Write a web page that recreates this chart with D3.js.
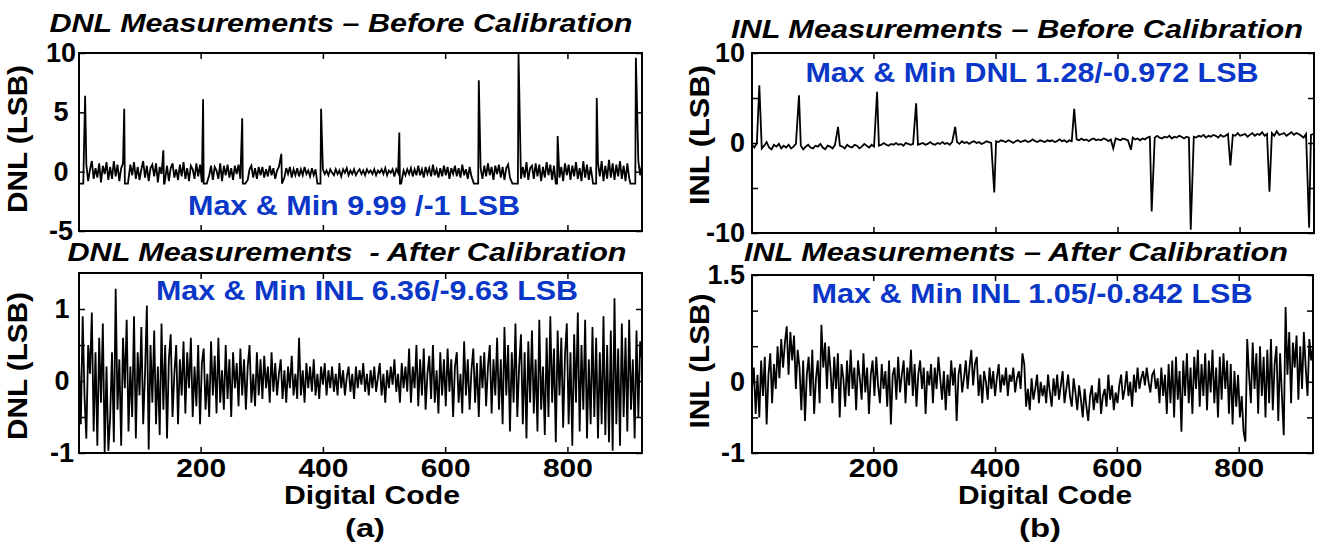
<!DOCTYPE html>
<html>
<head>
<meta charset="utf-8">
<script src="https://cdn.jsdelivr.net/npm/d3@7"></script>
<style>
  html, body { margin: 0; padding: 0; background: #fff; }
  svg { display: block; }
  text { font-family: "Liberation Sans", Arial, sans-serif; font-weight: bold; }
</style>
</head>
<body>
<svg id="chart" width="1318" height="552"></svg>
<script>
/* ── Data ── */
const codeDomain = [1, 922];
const xTicks = [200, 400, 600, 800];
const noiseStep = 3;     // noise arrays hold one value every 3 codes, from code 1
const inlBaseStep = 4;   // INL-before baseline: one value every 4 codes

// DNL before calibration: background noise
const dnlBeforeNoise = [
  .4,-.7,.8,-.3,.6,-.8,.2,.9,-.6,.3,-.5,.7,-.9,.5,-.2,.8,-.7,.4,-.6,.9,
  -.4,.6,-.8,.3,.7,-.5,.1,-.9,.6,-.3,.8,-.6,.4,-.7,.2,.9,-.5,.5,-.8,.3,
  .6,-.4,.7,-.9,.4,-.2,1.0,-.6,.5,-.8,.3,.7,-.5,.2,-.7,.6,-.4,.8,-.6,.3,
  -.8,.5,.2,-.6,.7,-.4,.6,-.9,.3,-.5,.8,-.3,.5,-.7,.4,.1,-.6,.7,-.8,.5,
  -.3,.6,-.5,.3,-.7,.5,-.2,.6,-.6,.4,-.4,.5,-.7,.2,.5,-.5,.3,-.6,.4,-.3,
  .4,-.5,.2,-.4,.5,-.3,.3,-.6,.1,.4,-.4,.2,-.5,.3,-.2,.4,-.5,.2,-.3,.3,
  -.4,.2,-.3,.4,-.2,.1,-.4,.3,-.3,.2,-.1,.3,-.4,.2,-.2,.1,-.3,.2,-.1,-.3,
  .2,-.2,.1,-.4,.2,-.1,.3,-.3,.1,-.2,.2,-.3,0,.2,-.2,.1,-.3,.2,-.1,.1,
  -.2,.2,-.3,.1,-.1,.2,-.2,.3,-.3,.1,-.1,.2,-.4,.2,-.1,.3,-.2,.1,-.3,.2,
  -.2,.3,-.4,.2,-.3,.5,-.3,.2,-.5,.4,-.2,.3,-.4,.6,-.3,.2,-.5,.3,-.4,.5,
  -.3,.4,-.6,.3,-.2,.5,-.4,.3,-.5,.6,-.3,.2,-.6,.4,-.4,.5,-.3,.6,-.5,.3,
  -.6,.5,-.4,.7,-.3,.4,-.7,.5,-.2,.6,-.5,.4,-.7,.3,.6,-.5,.4,-.8,.6,-.3,
  .7,-.6,.4,-.5,.8,-.7,.3,.5,-.6,.7,-.4,.6,-.8,.4,-.5,.8,-.3,.6,-.7,.5,
  -.6,.9,-.5,.4,-.8,.7,-.3,.6,-.7,.5,-.4,.8,-.6,.3,-.8,.9,-.5,.6,-.7,.4,
  -.5,.8,-.6,.7,-.4,.9,-.8,.5,-.6,1.0,-.5,.7,-.7,.6,-.4,.9,-.6,.5,-.8,.7,
  -.5,.8,-.6,.4,-.7,.9,-.3,.6
];
// DNL before: wide codes (spikes) and missing-code runs at -1 LSB
const dnlSpikeCodes = [11, 75, 139, 204, 268, 332, 397, 525, 655, 720, 784, 848, 912];
const dnlSpikeVals  = [6.4, 5.3, 1.8, 6.1, 4.5, 1.5, 5.3, 3.3, 7.7, 9.99, 3.0, 6.2, 9.6];
const dnlFlatFrom   = [1, 76, 140, 205, 269, 333, 391, 526, 647, 710, 781, 842, 903];
const dnlFlatTo     = [8, 81, 141, 210, 273, 333, 396, 528, 654, 719, 783, 847, 911];
const dnlFlatVal = -1;

// DNL after calibration
const dnlAfter = [
  .3,-.6,.9,-.2,-.8,.5,.1,.95,-.7,.4,-.9,.6,-.3,.8,-1,.2,-.97,-.5,.4,-.85,
  1.28,-.4,.3,-.9,.6,-.1,.85,-.7,.2,-.5,.9,-.8,.4,-.2,.75,-.6,.1,1.05,-.95,.5,
  -.3,.7,-.6,.2,-.75,.8,-.4,.5,-.8,.3,.65,-.5,.1,.5,-.6,.3,-.2,.55,-.45,.4,
  -.1,.6,-.5,.2,-.35,.5,-.6,.25,.45,-.4,.1,-.5,.55,-.2,.35,-.45,.6,-.3,.15,-.4,
  .5,-.25,.3,-.5,.4,-.1,.25,-.35,.45,-.2,.3,-.4,.2,.5,-.3,.1,-.35,.4,-.2,.3,
  -.25,.35,-.1,.2,-.3,.4,-.15,.25,-.2,.1,.3,-.25,.15,-.3,.2,-.1,.35,-.2,.1,-.25,
  .6,-.2,.15,-.3,.25,-.1,.2,-.15,.3,-.2,.1,-.25,.2,-.05,.25,-.2,.15,-.1,.2,-.15,
  .1,-.2,.25,-.1,.15,-.2,.05,.2,-.15,.1,-.25,.2,-.1,.15,-.05,.25,-.15,.1,-.2,.15,
  -.1,.2,-.15,.05,.25,-.2,.1,-.3,.15,-.1,.2,-.05,.3,-.15,.1,-.3,.25,-.1,.2,-.15,
  .45,-.3,.2,-.1,.5,-.35,.3,-.2,.45,-.4,.1,.35,-.25,.5,-.3,.15,-.45,.4,-.2,.3,
  -.35,.45,-.15,.3,-.5,.2,.4,-.3,.1,-.45,.55,-.2,.3,-.4,.15,.45,-.3,.25,-.5,.35,
  -.1,.4,-.35,.2,.5,-.45,.3,-.2,.6,-.4,.3,-.6,.75,-.2,.5,-.7,.4,-.3,.8,-.5,
  .2,.65,-.6,.4,-.8,.55,-.3,.7,-.45,.3,-.7,.85,-.4,.2,-.75,.6,-.5,.9,-.3,.45,
  -.85,.7,-.2,.6,-.65,.35,.8,-.6,.4,-.9,.65,-.3,.95,-.7,.5,-.4,.85,-.8,.3,-.6,
  .75,-.5,.6,-.8,.4,-.6,.9,-.75,.5,-.85,.7,-.97,1.15,-.6,.45,-.9,.8,-.5,.6,-.7,
  .85,-.4,.3,-.8,.7,-.5,.55,.3
];

// INL before calibration: slowly drifting baseline
const inlBeforeBase = [
  -.2,-.5,0,-.4,-.6,-.3,.1,-.5,-.7,-.2,-.4,-.1,-.6,-.3,-.5,-.2,-.6,-.4,-.1,-.5,
  -.3,-.7,-.4,-.2,-.5,-.6,-.3,-.4,-.1,-.5,-.7,-.3,-.4,-.6,-.2,-.5,-.3,-.4,-.6,-.2,
  -.4,-.5,-.2,-.3,-.6,-.4,-.1,-.3,-.5,-.2,-.4,-.1,-.3,-.2,0,-.2,-.3,-.1,-.2,0,
  -.2,-.1,-.3,0,-.1,-.2,-.1,.1,-.2,-.1,0,-.2,-.1,.1,-.1,-.2,0,-.1,.1,-.1,
  0,-.2,.1,0,.1,-.1,.2,0,.1,-.1,.1,.2,0,.1,-.1,0,.2,.1,0,.1,
  .2,.1,.3,.2,.1,.3,.2,0,.2,.3,.1,.2,.3,.1,.2,.4,.2,.1,.3,.2,
  .1,.3,.2,.3,.1,.2,.4,.2,.3,.1,.3,.2,.3,.4,.3,.5,.3,.4,.2,.4,
  .5,.3,.4,.3,.5,.4,.2,.4,.3,.5,.4,.3,.5,.4,.3,.4,.6,.4,.5,.3,
  .5,.4,.6,.7,.5,.6,.8,.6,.5,.7,.6,.8,.5,.7,.6,.8,.7,.5,.7,.6,
  .8,.7,.6,.8,.7,.9,.6,.8,.7,.9,.8,.6,.9,.7,.8,1.0,.7,.9,.8,1.1,
  .8,.9,1.0,.7,.9,1.1,.8,1.0,.9,1.2,.8,1.0,.9,1.1,.8,1.3,.9,1.0,1.1,.8,
  1.0,1.2,.9,1.1,1.0,.8,.6,1.0,1.1,.9,1.0
];
const inlSpikeCodes = [13, 78, 142, 206, 270, 334, 398, 529, 593, 622, 656, 720, 785, 849, 914];
const inlSpikeVals  = [6.4, 5.3, 1.8, 5.7, 4.4, 1.8, -5.5, 3.8, -0.6, -0.75, -7.6, -9.63, -2.5, -5.4, -9.4];

// INL after calibration
const inlAfter = [
  -.1,.2,-.45,.1,-.5,.3,-.2,.35,-.6,.1,.4,-.3,.25,-.1,.5,.05,.6,.2,.55,.78,
  .1,.7,.3,.65,-.1,.45,.2,-.4,.3,-.55,.1,.35,-.2,.45,-.45,.05,.3,-.3,.8,.2,
  .55,-.1,.5,.15,-.3,.35,-.1,.4,-.5,.25,.05,-.35,.3,-.2,.45,-.1,.2,-.4,.3,.05,
  -.25,.4,-.15,.2,-.45,.1,.3,-.2,.35,-.05,-.3,.25,-.1,.15,-.35,.3,-.6,.1,.2,-.25,
  .35,-.15,.1,.3,-.3,.2,-.05,.45,-.2,.25,-.35,.1,.3,-.1,.2,-.45,.15,-.05,.25,-.3,
  .2,-.1,.35,.05,-.25,.15,-.4,.1,-.2,.3,-.05,.2,-.55,.1,.25,-.15,.05,.3,-.1,.2,
  .45,-.05,.25,.35,-.2,.1,-.3,.15,0,-.25,.2,-.1,.15,-.2,.05,.25,-.15,.1,-.05,.2,
  -.2,.1,0,.2,-.15,.05,.15,-.1,.4,.25,-.35,-.1,-.4,.05,-.25,-.1,.1,-.3,0,-.2,
  -.05,-.3,.1,-.15,-.35,.05,-.2,.1,-.25,-.05,.15,-.3,-.1,.1,-.2,-.35,.05,-.15,-.4,-.05,
  -.25,-.5,-.1,-.35,-.55,-.2,-.05,-.4,-.15,-.3,.05,-.45,-.2,-.1,-.35,.1,-.25,-.05,-.4,-.15,
  -.3,-.05,.1,-.25,-.1,.15,-.2,0,-.35,.1,-.15,.2,-.1,.05,.15,-.05,.2,0,-.15,.1,
  .15,-.1,.05,-.3,.2,-.2,.1,-.45,.25,-.3,.3,-.5,.35,-.25,.15,-.7,.3,-.2,.4,-.3,
  .2,-.45,.35,-.1,.45,-.35,.25,-.2,.4,-.4,.3,-.15,.45,-.3,.2,-.5,.35,-.25,.4,-.1,
  .3,-.45,.25,-.6,.15,-.35,.1,-.5,-.2,-.7,-.84,.6,.1,-.3,.55,-.1,.4,-.45,.5,-.2,
  .35,-.5,.45,-.3,.6,-.4,.25,.5,-.55,.4,-.2,-.75,1.05,.1,.7,-.3,.55,.2,.65,-.25,
  .5,-.1,.7,.2,-.2,.6,.3,.5
];

/* ── Series assembly ── */
const stepSeries = (vals, step) => vals.map((v, i) => [1 + i * step, v]);

function dnlBeforeSeries() {
  const inFlat = (c) => dnlFlatFrom.some((f, i) => c >= f - 1 && c <= dnlFlatTo[i] + 1);
  const nearSpike = (c) => dnlSpikeCodes.some((s) => Math.abs(c - s) <= 1);
  const pts = stepSeries(dnlBeforeNoise, noiseStep).filter(([c]) => !inFlat(c) && !nearSpike(c));
  dnlFlatFrom.forEach((f, i) => { pts.push([f, dnlFlatVal], [dnlFlatTo[i], dnlFlatVal]); });
  dnlSpikeCodes.forEach((s, i) => pts.push([s, dnlSpikeVals[i]]));
  return pts.sort((a, b) => a[0] - b[0]);
}

function inlBeforeSeries() {
  const nearSpike = (c) => inlSpikeCodes.some((s) => Math.abs(c - s) <= 2);
  const pts = stepSeries(inlBeforeBase, inlBaseStep).filter(([c]) => !nearSpike(c));
  inlSpikeCodes.forEach((s, i) => pts.push([s, inlSpikeVals[i]]));
  return pts.sort((a, b) => a[0] - b[0]);
}

/* ── Panels ── */
const panels = [
  { id: 'tl', x0: 79, x1: 642, y0: 53, y1: 231, yDomain: [-5, 10],
    yTicks: [-5, 0, 5, 10], yLabels: [-5, 0, 5, 10], labelAlign: 'middle', labelX: 61,
    series: dnlBeforeSeries(), xLabels: false },
  { id: 'bl', x0: 79, x1: 642, y0: 273, y1: 453, yDomain: [-1, 1.5],
    yTicks: [-1, -0.5, 0, 0.5, 1], yLabels: [-1, 0, 1], labelAlign: 'middle', labelX: 62,
    series: stepSeries(dnlAfter, noiseStep), xLabels: true },
  { id: 'tr', x0: 752, x1: 1314, y0: 53, y1: 233, yDomain: [-10, 10],
    yTicks: [-10, -5, 0, 5, 10], yLabels: [-10, 0, 10], labelAlign: 'end', labelX: 745,
    series: inlBeforeSeries(), xLabels: false },
  { id: 'br', x0: 752, x1: 1313, y0: 275, y1: 453, yDomain: [-1, 1.5],
    yTicks: [-1, -0.5, 0, 0.5, 1, 1.5], yLabels: [-1, 0, 1.5], labelAlign: 'end', labelX: 745,
    series: stepSeries(inlAfter, noiseStep), xLabels: true }
];

const titles = [
  { text: 'DNL Measurements – Before Calibration', cx: 341, y: 32, len: 583 },
  { text: 'DNL Measurements  - After Calibration', cx: 347, y: 261, len: 559 },
  { text: 'INL Measurements – Before Calibration', cx: 1017, y: 38, len: 572 },
  { text: 'INL Measurements – After Calibration', cx: 1016, y: 261, len: 544 }
];
const notes = [
  { text: 'Max & Min 9.99 /-1 LSB', cx: 354, y: 215, len: 332 },
  { text: 'Max & Min INL 6.36/-9.63 LSB', cx: 367, y: 300, len: 422 },
  { text: 'Max & Min DNL 1.28/-0.972 LSB', cx: 1032, y: 82, len: 453 },
  { text: 'Max & Min INL 1.05/-0.842 LSB', cx: 1032, y: 303, len: 441 }
];
const yTitles = [
  { text: 'DNL (LSB)', x: 27, cy: 139, len: 148 },
  { text: 'DNL (LSB)', x: 27, cy: 366, len: 148 },
  { text: 'INL (LSB)', x: 709, cy: 135, len: 140 },
  { text: 'INL (LSB)', x: 709, cy: 361, len: 135 }
];
const xTitles = [
  { text: 'Digital Code', cx: 372, y: 504, len: 176 },
  { text: 'Digital Code', cx: 1045, y: 504, len: 174 }
];
const captions = [
  { text: '(a)', cx: 365, y: 537, len: 40 },
  { text: '(b)', cx: 1040, y: 537, len: 42 }
];

const svg = d3.select('#chart');
const TICK = 6;

function drawPanel(p) {
  const x = d3.scaleLinear().domain(codeDomain).range([p.x0, p.x1]);
  const y = d3.scaleLinear().domain(p.yDomain).range([p.y1, p.y0]);
  const g = svg.append('g');

  g.append('clipPath').attr('id', 'clip-' + p.id)
    .append('rect')
    .attr('x', p.x0).attr('y', p.y0)
    .attr('width', p.x1 - p.x0).attr('height', p.y1 - p.y0);

  /* ── trace ── */
  g.append('path')
    .datum(p.series)
    .attr('clip-path', `url(#clip-${p.id})`)
    .attr('fill', 'none')
    .attr('stroke', '#000')
    .attr('stroke-width', 1.8)
    .attr('d', d3.line().x((d) => x(d[0])).y((d) => y(d[1])));

  /* ── inward ticks on all four sides ── */
  const fmtY = (v) => (p.yLabels.includes(v) ? String(v) : '');
  g.append('g')
    .attr('transform', `translate(${p.x0},0)`)
    .call(d3.axisLeft(y).tickValues(p.yTicks).tickSize(-TICK).tickFormat(fmtY))
    .call((a) => a.select('.domain').remove())
    .call((a) => a.selectAll('line').attr('stroke', '#000').attr('stroke-width', 1.5))
    .call((a) => a.selectAll('text')
      .attr('x', p.labelX - p.x0)
      .attr('text-anchor', p.labelAlign)
      .attr('fill', '#000')
      .attr('font-size', 27)
      .attr('font-family', '"Liberation Sans", Arial, sans-serif')
      .attr('font-weight', 'bold'));

  g.append('g')
    .attr('transform', `translate(${p.x1},0)`)
    .call(d3.axisRight(y).tickValues(p.yTicks).tickSize(-TICK).tickFormat(''))
    .call((a) => a.select('.domain').remove())
    .call((a) => a.selectAll('line').attr('stroke', '#000').attr('stroke-width', 1.5));

  g.append('g')
    .attr('transform', `translate(0,${p.y0})`)
    .call(d3.axisTop(x).tickValues(xTicks).tickSize(-TICK).tickFormat(''))
    .call((a) => a.select('.domain').remove())
    .call((a) => a.selectAll('line').attr('stroke', '#000').attr('stroke-width', 1.5));

  g.append('g')
    .attr('transform', `translate(0,${p.y1})`)
    .call(d3.axisBottom(x).tickValues(xTicks).tickSize(-TICK)
      .tickFormat(p.xLabels ? d3.format('d') : ''))
    .call((a) => a.select('.domain').remove())
    .call((a) => a.selectAll('line').attr('stroke', '#000').attr('stroke-width', 1.5))
    .call((a) => a.selectAll('text')
      .attr('y', 24)
      .attr('dy', 0)
      .attr('fill', '#000')
      .attr('font-size', 26)
      .attr('font-family', '"Liberation Sans", Arial, sans-serif')
      .attr('font-weight', 'bold')
      .attr('textLength', 50)
      .attr('lengthAdjust', 'spacingAndGlyphs'));

  /* ── frame ── */
  g.append('rect')
    .attr('x', p.x0).attr('y', p.y0)
    .attr('width', p.x1 - p.x0).attr('height', p.y1 - p.y0)
    .attr('fill', 'none')
    .attr('stroke', '#000')
    .attr('stroke-width', 2);
}

panels.forEach(drawPanel);

/* ── Text ── */
const stretchText = (sel, size) => sel
  .attr('font-size', size)
  .attr('lengthAdjust', 'spacingAndGlyphs')
  .style('white-space', 'pre');

notes.forEach((n) => {
  svg.append('text')
    .attr('x', n.cx).attr('y', n.y)
    .attr('text-anchor', 'middle')
    .attr('fill', '#0a37c8')
    .attr('textLength', n.len)
    .call(stretchText, 28)
    .text(n.text);
});

titles.forEach((t) => {
  svg.append('text')
    .attr('x', t.cx).attr('y', t.y)
    .attr('text-anchor', 'middle')
    .attr('font-style', 'italic')
    .attr('fill', '#000')
    .attr('textLength', t.len)
    .call(stretchText, 26)
    .text(t.text);
});

yTitles.forEach((t) => {
  svg.append('text')
    .attr('transform', `translate(${t.x},${t.cy}) rotate(-90)`)
    .attr('text-anchor', 'middle')
    .attr('fill', '#000')
    .attr('textLength', t.len)
    .call(stretchText, 27)
    .text(t.text);
});

xTitles.concat(captions).forEach((t) => {
  svg.append('text')
    .attr('x', t.cx).attr('y', t.y)
    .attr('text-anchor', 'middle')
    .attr('fill', '#000')
    .attr('textLength', t.len)
    .call(stretchText, 25)
    .text(t.text);
});
</script>
</body>
</html>
